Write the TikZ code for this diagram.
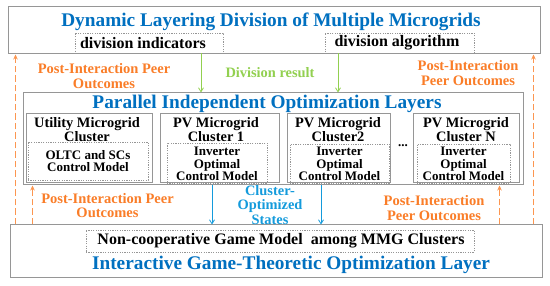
\documentclass[tikz,border=0pt]{standalone}
\usepackage{fontspec}
\setmainfont{Liberation Serif}
\usetikzlibrary{arrows.meta}
\definecolor{tblue}{RGB}{0,112,192}
\definecolor{lblue}{RGB}{20,155,220}
\definecolor{orng}{RGB}{250,125,40}
\definecolor{lorng}{RGB}{252,150,80}
\definecolor{lgreen}{RGB}{146,208,80}
\definecolor{bord}{RGB}{150,150,150}
\begin{document}
\begin{tikzpicture}[x=1pt,y=-1pt,
  frame/.style={draw=bord,line width=1pt,inner sep=0pt,fill=white},
  dotbox/.style={draw=bord,line width=0.8pt,dash pattern=on 1.2pt off 1.2pt,inner sep=0pt},
  ttl/.style={text=tblue,font=\bfseries\fontsize{19.3}{21}\selectfont,inner sep=0pt},
  blk/.style={font=\bfseries\fontsize{16}{18}\selectfont,inner sep=0pt},
  cl/.style={font=\bfseries\fontsize{14.4}{14}\selectfont,align=center,inner sep=0pt},
  inn/.style={font=\bfseries\fontsize{13}{12.5}\selectfont,align=center,inner sep=0pt},
  org/.style={text=orng,font=\bfseries\fontsize{14.5}{14.5}\selectfont,align=center,inner sep=0pt},
  garrow/.style={draw=lgreen,line width=0.8pt,-{Straight Barb[length=4pt,width=5pt]}},
  barrow/.style={draw=lblue,line width=0.8pt,-{Straight Barb[length=4pt,width=5pt]}},
  oarrow/.style={draw=lorng,line width=1.2pt,dash pattern=on 6.5pt off 3pt,-{Stealth[length=5pt,width=4.5pt]}}
]
\useasboundingbox[fill=white] (0,0) rectangle (550,286);
% boxes
\node[frame,minimum width=532pt,minimum height=47pt] (top) at (274,30.5) {};
\node[dotbox,minimum width=148pt,minimum height=20pt] (indic) at (149,43) {};
\node[dotbox,minimum width=149pt,minimum height=20pt] (algo) at (399.5,43) {};
\node[frame,minimum width=500pt,minimum height=92pt] (par) at (273,139) {};
\node[frame,minimum width=126pt,minimum height=69pt] (util) at (89,148.5) {};
\node[dotbox,minimum width=120pt,minimum height=38pt] (utilin) at (88,161) {};
\node[frame,minimum width=119pt,minimum height=69pt] (pv1) at (219.5,148.5) {};
\node[dotbox,minimum width=100pt,minimum height=40pt] (pv1in) at (217,163) {};
\node[frame,minimum width=103pt,minimum height=69pt] (pv2) at (338.5,148.5) {};
\node[dotbox,minimum width=99pt,minimum height=39pt] (pv2in) at (339.5,163.5) {};
\node[frame,minimum width=106pt,minimum height=69pt] (pvn) at (466,148.5) {};
\node[dotbox,minimum width=93pt,minimum height=39pt] (pvnin) at (463.5,163.5) {};
\node[frame,minimum width=532pt,minimum height=53pt] (bottom) at (276,251.5) {};
\node[dotbox,minimum width=388pt,minimum height=22pt] (game) at (280,241) {};
% texts
\node[ttl] (toptitle) at (271,22) {Dynamic Layering Division of Multiple Microgrids};
\node[blk] (indictext) at (143,43) {division indicators};
\node[blk] (algotext) at (397,43) {division algorithm};
\node[text=lgreen,font=\bfseries\fontsize{14.4}{14}\selectfont,inner sep=0pt] (divres) at (270,73) {Division result};
\node[org] (olt) at (104,76) {Post-Interaction Peer\\Outcomes};
\node[org] (ort) at (468,73) {Post-Interaction\\Peer Outcomes};
\node[ttl] (partitle) at (267,104) {Parallel Independent Optimization Layers};
\node[cl] (utiltext) at (87,130) {Utility Microgrid\\Cluster};
\node[cl] (pv1text) at (216,130) {PV Microgrid\\Cluster 1};
\node[cl] (pv2text) at (338,130) {PV Microgrid\\Cluster2};
\node[cl] (pvntext) at (466,130) {PV Microgrid\\Cluster N};
\node[inn] (utilintext) at (88,161) {OLTC and SCs\\Control Model};
\node[inn] (pv1intext) at (217,164) {Inverter\\Optimal\\Control Model};
\node[inn] (pv2intext) at (339.5,164) {Inverter\\Optimal\\Control Model};
\node[inn] (pvnintext) at (463.5,164) {Inverter\\Optimal\\Control Model};
\node[font=\bfseries\fontsize{13}{13}\selectfont,inner sep=0pt] (dots) at (403,146) {...};
\node[text=lblue,font=\bfseries\fontsize{14.4}{14.5}\selectfont,align=center,inner sep=0pt] (cos) at (270,205) {Cluster-\\Optimized\\States};
\node[org] (olb) at (107.5,205.5) {Post-Interaction Peer\\Outcomes};
\node[org] (orb) at (434,208) {Post-Interaction\\Peer Outcomes};
\node[blk] (gametext) at (281,241) {Non-cooperative Game Model\ \ among MMG Clusters};
\node[ttl] (bottitle) at (291,265) {Interactive Game-Theoretic Optimization Layer};
% connectors
\draw[garrow] ([xshift=52pt]indic.south) -- ([xshift=52pt]indic.south |- par.north);
\draw[garrow] ([xshift=-61.5pt]algo.south) -- ([xshift=-61.5pt]algo.south |- par.north);
\draw[barrow] ([xshift=-7.5pt]pv1.south |- par.south) -- ([xshift=-7.5pt]pv1.south |- bottom.north);
\draw[barrow] ([xshift=-17.5pt]pv2.south |- par.south) -- ([xshift=-17.5pt]pv2.south |- bottom.north);
\draw[oarrow] ([xshift=6pt]bottom.north west) -- ([xshift=6pt]bottom.north west |- top.south);
\draw[oarrow] ([xshift=-9pt]bottom.north east) -- ([xshift=-9pt]bottom.north east |- top.south);
\draw[oarrow] ([xshift=23pt]bottom.north west) -- ([xshift=23pt]bottom.north west |- par.south);
\draw[oarrow] ([xshift=-43pt]bottom.north east) -- ([xshift=-43pt]bottom.north east |- par.south);
\end{tikzpicture}
\end{document}
